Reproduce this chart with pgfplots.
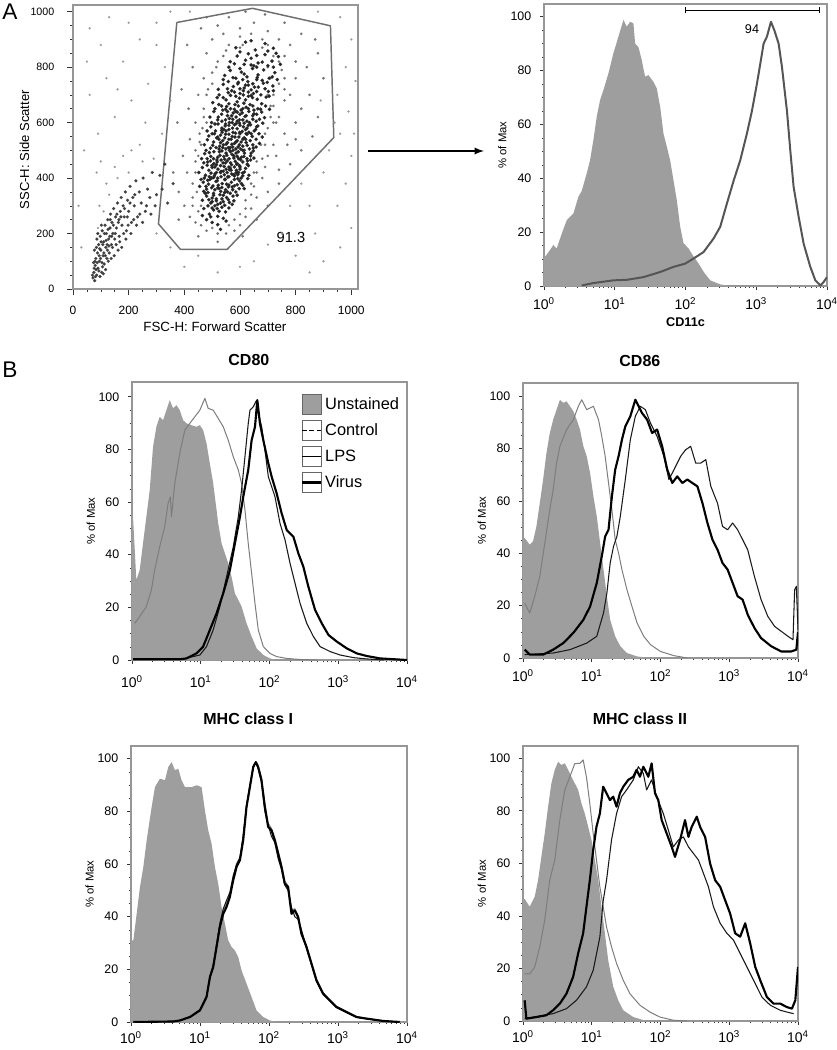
\documentclass[border=0pt]{standalone}
\usepackage{pgfplots}
\pgfplotsset{compat=1.18}
\usepackage{pgfplotstable}
\usepackage{fontspec}
\setmainfont{Liberation Sans}
\definecolor{unst}{RGB}{158,158,158}
\definecolor{ctrl}{RGB}{125,125,125}
\definecolor{framec}{RGB}{150,150,150}
\definecolor{cdline}{RGB}{85,85,85}
\definecolor{gatec}{RGB}{110,110,110}

\pgfplotstableread[row sep=\\]{
x y\\
490 270\\ 505 285\\ 520 262\\ 535 295\\ 548 278\\ 510 300\\ 470 290\\ 560 292\\ 525 280\\ 540 255\\
465 320\\ 480 335\\ 495 310\\ 505 345\\ 515 325\\ 528 340\\ 540 315\\ 552 330\\ 565 345\\ 578 318\\ 590 338\\ 500 328\\ 520 305\\ 545 348\\ 475 345\\
455 370\\ 468 385\\ 480 360\\ 492 395\\ 503 372\\ 514 388\\ 525 362\\ 536 380\\ 547 395\\ 558 368\\ 569 385\\ 580 372\\ 592 398\\ 605 380\\ 615 362\\ 487 378\\ 531 352\\ 552 378\\ 574 358\\ 598 390\\
452 420\\ 465 438\\ 476 410\\ 488 428\\ 499 445\\ 510 415\\ 521 432\\ 532 405\\ 543 442\\ 554 420\\ 565 436\\ 576 412\\ 587 428\\ 598 445\\ 609 418\\ 620 435\\ 632 410\\ 505 402\\ 540 425\\ 570 448\\ 515 448\\ 560 405\\ 595 420\\ 482 446\\
462 470\\ 473 488\\ 484 458\\ 495 478\\ 506 495\\ 517 465\\ 528 482\\ 539 455\\ 550 490\\ 561 470\\ 572 485\\ 583 460\\ 594 495\\ 605 475\\ 616 490\\ 627 462\\ 638 480\\ 648 498\\ 520 475\\ 545 468\\ 566 495\\ 590 478\\ 610 458\\ 535 498\\ 578 472\\
472 520\\ 483 538\\ 494 508\\ 505 530\\ 516 545\\ 527 515\\ 538 535\\ 549 505\\ 560 540\\ 571 522\\ 582 548\\ 593 512\\ 604 530\\ 615 545\\ 626 518\\ 637 535\\ 648 508\\ 658 540\\ 540 520\\ 565 510\\ 590 535\\ 610 515\\ 555 528\\ 585 505\\ 520 548\\
482 570\\ 495 585\\ 508 560\\ 521 595\\ 534 572\\ 547 588\\ 560 558\\ 573 580\\ 586 596\\ 599 565\\ 612 585\\ 625 558\\ 638 592\\ 651 570\\ 664 588\\ 550 570\\ 575 565\\ 600 590\\ 620 575\\ 530 555\\ 580 592\\
492 620\\ 506 640\\ 520 610\\ 534 630\\ 548 648\\ 562 615\\ 576 635\\ 590 605\\ 604 645\\ 618 622\\ 632 640\\ 646 612\\ 660 630\\ 674 648\\ 688 618\\ 570 625\\ 600 630\\ 625 605\\ 650 645\\ 555 640\\
502 672\\ 518 690\\ 534 660\\ 550 682\\ 566 698\\ 582 665\\ 598 688\\ 614 670\\ 630 695\\ 646 660\\ 662 684\\ 678 668\\ 694 692\\ 590 675\\ 620 682\\ 560 668\\ 640 698\\
522 720\\ 540 738\\ 558 708\\ 576 730\\ 594 745\\ 612 715\\ 630 735\\ 648 705\\ 666 728\\ 684 742\\ 702 712\\ 718 732\\ 600 722\\ 640 718\\ 580 710\\
545 770\\ 565 788\\ 585 760\\ 605 782\\ 625 765\\ 645 795\\ 665 772\\ 685 790\\ 705 760\\ 725 780\\ 615 775\\ 660 755\\
565 820\\ 590 840\\ 615 810\\ 640 832\\ 665 815\\ 690 845\\ 715 822\\ 738 838\\ 650 805\\
585 870\\ 620 890\\ 655 862\\ 690 885\\ 720 868\\ 640 895\\
530 420\\ 548 455\\ 562 430\\ 575 500\\ 588 450\\ 602 505\\ 518 390\\ 545 395\\ 570 415\\ 595 470\\ 610 540\\ 558 510\\ 532 465\\ 585 530\\ 622 560\\ 600 560\\ 545 545\\ 568 540\\ 590 420\\ 510 440\\
525 505\\ 553 482\\ 580 440\\ 615 500\\ 640 560\\ 630 590\\ 572 600\\ 548 610\\ 598 610\\ 610 650\\ 585 640\\ 560 590\\ 535 580\\ 505 470\\ 498 400\\ 520 365\\ 555 350\\ 580 395\\ 600 440\\ 625 470\\
485 300\\ 500 292\\ 515 318\\ 530 310\\ 545 302\\ 558 322\\ 572 305\\ 500 315\\ 488 322\\ 535 325\\ 562 312\\ 518 290\\
470 352\\ 485 348\\ 498 365\\ 510 358\\ 522 374\\ 535 366\\ 548 358\\ 560 375\\ 572 368\\ 585 350\\ 597 362\\ 610 374\\ 478 370\\ 505 338\\ 540 338\\ 575 335\\ 590 376\\
460 395\\ 472 400\\ 484 392\\ 496 418\\ 508 408\\ 520 400\\ 532 424\\ 544 412\\ 556 404\\ 568 428\\ 580 408\\ 592 412\\ 604 400\\ 616 422\\ 628 398\\ 490 405\\ 515 420\\ 550 432\\ 585 418\\ 610 408\\
470 455\\ 482 470\\ 494 462\\ 506 452\\ 518 458\\ 530 445\\ 542 478\\ 554 462\\ 566 455\\ 578 480\\ 590 452\\ 602 466\\ 614 478\\ 626 450\\ 638 465\\ 650 472\\ 500 438\\ 560 440\\ 600 432\\ 630 445\\
478 500\\ 490 492\\ 502 518\\ 514 510\\ 526 495\\ 538 510\\ 550 522\\ 562 500\\ 574 512\\ 586 490\\ 598 520\\ 610 500\\ 622 528\\ 634 505\\ 646 520\\ 658 512\\ 670 525\\ 530 528\\ 580 525\\ 640 490\\
488 552\\ 500 560\\ 512 570\\ 524 540\\ 536 565\\ 548 558\\ 560 575\\ 572 550\\ 584 562\\ 596 548\\ 608 568\\ 620 540\\ 632 565\\ 644 550\\ 656 575\\ 668 560\\ 680 548\\ 542 575\\ 590 578\\ 625 580\\
498 600\\ 510 595\\ 522 620\\ 535 605\\ 548 595\\ 562 600\\ 574 612\\ 586 620\\ 598 598\\ 610 610\\ 622 625\\ 634 600\\ 646 625\\ 658 605\\ 670 612\\ 682 598\\ 555 625\\ 615 598\\ 660 585\\
510 650\\ 524 665\\ 538 645\\ 552 658\\ 566 650\\ 580 648\\ 594 660\\ 608 635\\ 622 655\\ 636 665\\ 650 632\\ 664 650\\ 678 638\\ 692 660\\ 706 648\\ 590 638\\ 630 650\\
525 700\\ 540 690\\ 555 722\\ 570 715\\ 585 695\\ 600 705\\ 615 725\\ 630 710\\ 645 690\\ 660 712\\ 675 700\\ 690 722\\ 705 695\\ 720 715\\ 612 700\\ 652 728\\
540 755\\ 558 748\\ 575 762\\ 592 740\\ 610 755\\ 628 748\\ 646 740\\ 662 762\\ 680 752\\ 698 745\\ 716 765\\ 734 755\\ 620 735\\
560 800\\ 580 812\\ 600 795\\ 620 825\\ 640 808\\ 660 800\\ 680 818\\ 700 805\\ 720 800\\ 745 810\\
600 855\\ 630 848\\ 660 842\\ 700 858\\ 730 850\\
480 250\\ 500 240\\ 520 232\\ 465 265\\ 550 245\\ 530 215\\ 495 260\\
}\coretab

\pgfplotstableread[row sep=\\]{
x y\\
400 300\\ 420 260\\ 440 240\\ 380 350\\ 410 420\\ 430 380\\ 395 480\\ 420 540\\ 440 600\\ 415 650\\ 450 700\\ 470 760\\ 430 800\\ 480 850\\ 500 900\\ 520 950\\ 560 980\\ 600 940\\ 650 960\\ 700 930\\
740 900\\ 780 880\\ 800 820\\ 760 760\\ 780 700\\ 820 650\\ 800 600\\ 760 560\\ 720 520\\ 700 480\\ 740 430\\ 680 400\\ 700 350\\ 660 330\\ 640 290\\ 620 260\\ 600 230\\ 580 210\\ 550 200\\ 500 220\\
460 230\\ 450 280\\ 430 330\\ 455 560\\ 470 620\\ 480 700\\ 740 620\\ 720 600\\ 760 680\\ 710 660\\ 690 560\\ 675 520\\ 660 460\\ 690 440\\ 650 420\\ 640 380\\ 620 320\\ 710 760\\ 740 820\\ 700 800\\
760 840\\ 680 900\\ 600 870\\ 550 860\\ 520 820\\ 500 780\\ 480 600\\ 460 520\\ 440 460\\ 470 400\\ 800 760\\ 850 700\\ 880 620\\ 860 550\\ 820 500\\ 780 450\\ 740 380\\ 700 300\\ 660 250\\ 610 190\\
520 170\\ 450 190\\ 380 250\\ 360 420\\ 375 600\\ 390 720\\ 410 880\\ 460 940\\ 690 990\\ 820 920\\ 880 850\\ 900 760\\ 840 800\\ 870 900\\ 760 960\\ 620 1000\\ 540 920\\ 480 980\\ 720 700\\ 730 480\\
770 520\\ 800 540\\
430 300\\ 445 350\\ 440 420\\ 450 480\\ 455 530\\ 465 580\\ 470 650\\ 485 720\\ 500 740\\ 515 800\\ 540 840\\ 560 880\\ 600 910\\ 640 920\\ 680 870\\ 720 840\\ 750 790\\ 740 740\\ 720 660\\ 710 620\\
700 580\\ 690 520\\ 680 470\\ 660 420\\ 650 370\\ 640 340\\ 620 290\\ 600 270\\ 580 250\\ 560 230\\ 520 200\\ 480 210\\ 460 300\\ 440 500\\ 700 700\\ 730 600\\ 700 880\\ 760 720\\ 670 560\\ 610 880\\
}\halotab

\pgfplotstableread[row sep=\\]{
x y\\
72 40\\ 75 60\\ 78 30\\ 80 85\\ 82 110\\ 85 50\\ 88 130\\ 90 75\\ 92 160\\ 95 100\\ 98 190\\ 100 140\\ 103 60\\ 105 210\\ 108 120\\ 110 170\\ 112 90\\ 115 230\\ 118 150\\ 120 200\\
122 110\\ 125 250\\ 128 180\\ 130 130\\ 133 220\\ 135 270\\ 138 160\\ 140 240\\ 143 200\\ 146 290\\ 150 180\\ 153 260\\ 156 220\\ 160 310\\ 163 240\\ 166 190\\ 170 280\\ 173 330\\ 176 230\\ 180 300\\
184 260\\ 188 350\\ 192 210\\ 196 320\\ 200 280\\ 205 370\\ 210 240\\ 215 330\\ 220 300\\ 226 390\\ 232 260\\ 238 350\\ 245 310\\ 252 400\\ 260 280\\ 268 360\\ 276 330\\ 285 420\\ 295 300\\ 70 50\\
74 95\\ 77 140\\ 83 70\\ 86 180\\ 94 120\\ 97 45\\ 101 170\\ 106 80\\ 111 130\\ 117 70\\ 123 160\\ 127 100\\ 132 190\\ 137 110\\ 142 150\\ 148 120\\ 155 160\\ 162 140\\ 168 170\\ 175 150\\
182 200\\ 190 180\\ 198 230\\ 208 200\\ 218 250\\ 228 230\\ 240 270\\ 250 240\\ 264 300\\ 280 270\\ 300 340\\ 320 360\\ 340 310\\ 360 380\\ 312 410\\ 330 450\\
76 75\\ 79 100\\ 81 45\\ 84 150\\ 87 95\\ 89 200\\ 93 65\\ 96 145\\ 99 110\\ 102 230\\ 104 95\\ 107 160\\ 109 55\\ 113 200\\ 116 120\\ 119 175\\ 124 140\\ 126 215\\ 129 155\\ 134 250\\
139 190\\ 145 230\\ 152 200\\ 158 270\\ 165 250\\ 172 260\\ 185 290\\ 195 260\\ 205 310\\ 222 340\\
}\debristab

\pgfplotstableread[row sep=\\]{
x y\\
60 700\\ 120 760\\ 180 820\\ 240 900\\ 300 960\\ 90 560\\ 150 620\\ 210 680\\ 270 740\\ 330 800\\ 100 880\\ 200 960\\ 260 600\\ 320 560\\ 350 680\\ 300 880\\ 160 720\\ 60 940\\ 240 520\\ 350 1000\\
880 1000\\ 960 980\\ 1000 900\\ 980 800\\ 950 700\\ 990 640\\ 960 560\\ 1000 480\\ 980 380\\ 950 300\\ 1000 220\\ 960 150\\ 900 100\\ 850 60\\ 800 120\\ 750 200\\ 700 160\\ 650 100\\ 600 80\\ 520 60\\
450 120\\ 400 80\\ 350 150\\ 300 200\\ 850 300\\ 900 420\\ 870 200\\ 920 500\\ 780 300\\ 820 380\\ 940 600\\ 890 680\\ 1010 560\\ 1015 750\\ 40 500\\ 20 300\\ 30 150\\ 50 820\\ 130 980\\ 420 1000\\
290 470\\ 250 460\\ 200 420\\ 160 400\\ 130 340\\ 110 280\\ 90 220\\ 95 300\\ 120 380\\ 150 440\\ 180 480\\ 210 500\\ 85 420\\ 100 460\\
}\sparsetab

\pgfplotsset{
  flow/.style={
    scale only axis,
    axis line style={draw=framec, line width=0.8pt},
    tick align=outside,
    tick pos=left,
    major tick style={black!80, line width=0.6pt},
    minor tick style={black!80, line width=0.45pt},
    major tick length=3pt,
    minor tick length=1.6pt,
    yticklabel style={font=\fontsize{9.3}{10}\selectfont, xshift=-3pt},
    xticklabel style={font=\fontsize{10.5}{11}\selectfont},
    /pgf/number format/assume math mode=true,
    /pgf/number format/1000 sep={},
    clip=true,
  },
  hist/.style={
    flow,
    xmin=0, xmax=4, ymin=0, ymax=105,
    xtick={0,1,2,3,4},
    xticklabels={10\textsuperscript{0},10\textsuperscript{1},10\textsuperscript{2},10\textsuperscript{3},10\textsuperscript{4}},
    minor xtick={0.301,0.477,0.602,0.699,0.778,0.845,0.903,0.954,1.301,1.477,1.602,1.699,1.778,1.845,1.903,1.954,2.301,2.477,2.602,2.699,2.778,2.845,2.903,2.954,3.301,3.477,3.602,3.699,3.778,3.845,3.903,3.954},
    ytick={0,20,40,60,80,100},
    minor y tick num=3,
    ylabel={\% of Max},
    ylabel style={font=\fontsize{8.5}{9}\selectfont, at={(axis description cs:-0.15,0.5)}, anchor=center},
    title style={font=\bfseries\fontsize{12}{13}\selectfont, at={(axis description cs:0.425,1.052)}, anchor=center},
  },
  unstained/.style={fill=unst, draw=none},
  control/.style={ctrl, line width=0.75pt, line join=round},
  lps/.style={black!90, line width=0.8pt, line join=round},
  virus/.style={black, line width=1.6pt, line join=round},
  dots/.style={only marks, mark=*, mark size=#1},
}

\begin{document}
\begin{tikzpicture}
\path[use as bounding box] (0pt,0pt) rectangle (627.75pt,-787.5pt);

% ---------------- Panel A, scatter ----------------
\begin{axis}[flow, at={(54.75pt,-216.75pt)}, anchor=south west,
  width=213.75pt, height=213pt,
  xmin=0, xmax=1024, ymin=0, ymax=1024,
  xtick={0,200,...,1000}, ytick={0,200,...,1000}, minor tick num=3,
  major tick length=4.5pt, minor tick length=2.2pt,
  xlabel={FSC-H: Forward Scatter}, ylabel={SSC-H: Side Scatter},
  xlabel style={font=\fontsize{10}{11}\selectfont, at={(axis description cs:0.498,-0.134)}, anchor=center},
  ylabel style={font=\fontsize{9.8}{11}\selectfont, at={(axis description cs:-0.17,0.49)}, anchor=center},
  xticklabel style={font=\fontsize{9}{10}\selectfont, yshift=-5pt},
  yticklabel style={font=\fontsize{8}{9}\selectfont, xshift=-3pt}]
\addplot[dots=0.8pt, mark options={draw=black!40, fill=black!40, line width=0.1pt}] table {\sparsetab};
\addplot[dots=0.95pt, mark options={draw=black!55, fill=black!55, line width=0.1pt}] table {\halotab};
\addplot[dots=1.15pt, mark options={draw=black!75, fill=black!75, line width=0.1pt}] table {\debristab};
\addplot[dots=1.3pt, mark options={draw=black!85, fill=black!85, line width=0.1pt}] table {\coretab};
\addplot[gatec, line width=1.1pt, line join=round] coordinates {(373,961) (645,1012) (925,949) (937,546) (554,143) (386,143) (307,235) (373,961)};
\node[font=\fontsize{11}{12}\selectfont] at (axis cs:783,186) {91.3};
\end{axis}

\draw[-latex, line width=1.4pt] (276pt,-113.25pt) -- (363pt,-113.25pt);
\node[font=\fontsize{17}{18}\selectfont] at (7.5pt,-9pt) {A};
\node[font=\fontsize{17}{18}\selectfont] at (7.5pt,-277.5pt) {B};

% ---------------- Panel A, CD11c ----------------
\begin{axis}[hist, at={(408pt,-214.5pt)}, anchor=south west,
  width=212.25pt, height=211.5pt, ymax=104.7,
  xticklabel style={yshift=-2pt},
  xlabel={\bfseries CD11c},
  xlabel style={font=\fontsize{9.5}{10}\selectfont, at={(axis description cs:0.5,-0.128)}, anchor=center},
  ylabel style={at={(axis description cs:-0.147,0.5)}}]
\addplot[unstained] coordinates {(0,10.3) (0.085,13.4) (0.132,15.2) (0.179,13.9) (0.25,19.4) (0.321,24.4) (0.415,26.9) (0.486,33.1) (0.533,35.3) (0.604,41.8) (0.651,46.7) (0.698,54.2) (0.745,62.8) (0.792,69.0) (0.840,72.7) (0.910,78.9) (0.981,86.4) (1.052,92.6) (1.123,98.8) (1.170,96.3) (1.217,98.1) (1.264,97.5) (1.288,90) (1.335,88.7) (1.382,83.8) (1.429,77.7) (1.476,78.3) (1.547,75.8) (1.594,73.4) (1.642,66.5) (1.689,56.6) (1.736,51.7) (1.783,46.7) (1.830,39.3) (1.877,31.9) (1.925,22) (1.972,15.9) (2.042,14) (2.113,11) (2.184,8.4) (2.255,5.3) (2.349,2.1) (2.491,0.6) (2.632,0)} \closedcycle;
\addplot[cdline, line width=1.5pt, line join=round] coordinates {(0.533,0.2) (0.698,1.1) (0.981,2.1) (1.170,2.3) (1.406,3.3) (1.642,5.2) (1.830,7.1) (1.995,8.3) (2.113,10.2) (2.255,12.6) (2.396,17.6) (2.491,22) (2.585,30.6) (2.679,39) (2.774,46.7) (2.868,56.6) (2.939,65) (3.009,75) (3.057,82.5) (3.104,90) (3.151,92.6) (3.208,98.1) (3.255,95) (3.316,90) (3.363,81.4) (3.434,65) (3.481,50.4) (3.528,36.8) (3.599,25.7) (3.670,15.7) (3.764,7.1) (3.835,2.1) (3.906,0.2) (3.953,1.5) (4.0,3.3)};
\addplot[black, line width=0.9pt] coordinates {(2,102.4) (3.89,102.4)};
\addplot[black, line width=0.9pt] coordinates {(2,101.2) (2,103.6)};
\addplot[black, line width=0.9pt] coordinates {(3.89,101.2) (3.89,103.6)};
\node[font=\fontsize{9.5}{10}\selectfont] at (axis cs:2.94,95.4) {94};
\end{axis}

% ---------------- CD80 ----------------
\begin{axis}[hist, at={(99pt,-495pt)}, anchor=south west,
  width=206.25pt, height=208.5pt, ymax=105.6, title={CD80},
  xticklabel style={yshift=-5pt},
  legend style={at={(axis description cs:0.612,0.958)}, anchor=north west, draw=none, fill=none,
    font=\fontsize{12.3}{13}\selectfont, row sep=4pt, inner sep=0pt, nodes={inner sep=2pt}},
  legend cell align=left]
\addplot[unstained, forget plot] coordinates {(0,54.4) (0.015,54.4) (0.063,30.4) (0.112,34.2) (0.160,44.3) (0.209,54.4) (0.258,64.6) (0.306,81) (0.355,88.6) (0.403,92.4) (0.452,91.1) (0.501,94.9) (0.549,98.7) (0.598,95.6) (0.646,96.8) (0.695,94.9) (0.744,91.1) (0.792,89.9) (0.865,89.2) (0.938,88.6) (0.987,89.2) (1.035,87.3) (1.084,82.3) (1.132,74.7) (1.181,67.1) (1.230,57) (1.254,51.9) (1.303,44.3) (1.351,40.5) (1.400,36.7) (1.448,31.6) (1.497,25.3) (1.546,22.8) (1.594,20.3) (1.667,13.9) (1.740,8.9) (1.813,4.4) (1.910,1.9) (2.007,0.6) (2.104,0)} \closedcycle;
\addplot[control, forget plot] coordinates {(0.039,13.9) (0.112,16.5) (0.209,20.3) (0.282,26.6) (0.330,34.2) (0.403,43) (0.476,50.6) (0.525,59.5) (0.559,62) (0.574,54.4) (0.622,67.1) (0.695,78.5) (0.768,87.3) (0.841,89.9) (0.914,92.4) (0.987,94.9) (1.060,99.4) (1.108,95.6) (1.181,94.9) (1.254,91.8) (1.327,88.6) (1.400,83.5) (1.473,77.2) (1.546,72.2) (1.594,67.1) (1.643,57) (1.691,44.3) (1.740,32.9) (1.789,21.5) (1.837,11.4) (1.910,5.1) (2.007,2.5) (2.104,1.3) (2.250,0.6) (2.445,0.2) (2.688,0)};
\addplot[lps, forget plot] coordinates {(0.015,0.2) (0.744,0.3) (0.841,1) (0.987,1.9) (1.084,5.1) (1.181,11.4) (1.278,20.3) (1.375,31.6) (1.473,43) (1.546,54.4) (1.594,64.6) (1.643,77.2) (1.691,89.9) (1.716,94.9) (1.764,96.2) (1.813,98.7) (1.837,93.7) (1.886,88.6) (1.934,79.7) (1.983,69.6) (2.032,65.8) (2.080,62) (2.153,51.9) (2.226,45.6) (2.299,36.7) (2.372,29.1) (2.445,21.5) (2.542,13.9) (2.639,8.9) (2.736,5.1) (2.882,3.2) (3.028,1.9) (3.222,0.9) (3.417,0.4) (3.660,0)};
\addplot[virus, forget plot] coordinates {(0.015,0.3) (0.695,0.3) (0.792,0.6) (0.938,2.5) (1.035,5.1) (1.132,11.4) (1.230,17.7) (1.327,25.3) (1.424,34.2) (1.497,44.3) (1.570,54.4) (1.618,62) (1.691,72.2) (1.740,83.5) (1.789,88.6) (1.823,98.7) (1.861,89.9) (1.910,83.5) (1.983,74.7) (2.032,69.6) (2.104,63.3) (2.177,55.7) (2.250,49.4) (2.299,48.1) (2.348,46.8) (2.420,40.5) (2.493,35.4) (2.566,27.8) (2.663,19) (2.761,13.9) (2.858,9.5) (2.979,7) (3.125,4.4) (3.271,2.5) (3.417,1.5) (3.611,0.6) (3.806,0.3) (4.0,0)};
\addlegendimage{legend image code/.code={\filldraw[draw=gray!80!black, fill=unst, line width=0.6pt] (0pt,-7.5pt) rectangle (14.25pt,7.5pt);}}
\addlegendentry{Unstained}
\addlegendimage{legend image code/.code={\draw[draw=gray!80!black, fill=white, line width=0.6pt] (0pt,-7.5pt) rectangle (14.25pt,7.5pt); \draw[black, line width=1pt, dash pattern=on 3.5pt off 2pt] (0pt,0pt) -- (14.25pt,0pt);}}
\addlegendentry{Control}
\addlegendimage{legend image code/.code={\draw[draw=gray!80!black, fill=white, line width=0.6pt] (0pt,-7.5pt) rectangle (14.25pt,7.5pt); \draw[black, line width=1pt] (0pt,0pt) -- (14.25pt,0pt);}}
\addlegendentry{LPS}
\addlegendimage{legend image code/.code={\draw[draw=gray!80!black, fill=white, line width=0.6pt] (0pt,-7.5pt) rectangle (14.25pt,7.5pt); \draw[black, line width=2.2pt] (0pt,0pt) -- (14.25pt,0pt);}}
\addlegendentry{Virus}
\end{axis}

% ---------------- CD86 ----------------
\begin{axis}[hist, at={(392.25pt,-493.5pt)}, anchor=south west,
  width=206.25pt, height=206.25pt, ymax=105.1, title={CD86},
  xticklabel style={yshift=-2pt}]
\addplot[unstained] coordinates {(0,45.9) (0.024,45.9) (0.098,43.3) (0.146,44.6) (0.195,50.3) (0.244,59.2) (0.293,68.2) (0.341,78.3) (0.390,86) (0.439,91.1) (0.488,94.9) (0.537,98.7) (0.585,97.5) (0.634,98.1) (0.683,96.2) (0.732,94.3) (0.780,91.1) (0.829,87.3) (0.878,80.9) (0.927,77.1) (0.976,70.7) (1.024,61.8) (1.073,54.1) (1.122,43.9) (1.171,33.8) (1.220,23.6) (1.268,14.6) (1.341,8.3) (1.415,4.5) (1.512,1.9) (1.659,0.6) (1.854,0)} \closedcycle;
\addplot[control] coordinates {(0.024,21.0) (0.098,17.2) (0.171,23.6) (0.244,31.2) (0.317,43.9) (0.390,56.7) (0.439,64.3) (0.488,74.5) (0.537,80.9) (0.634,87.3) (0.732,91.1) (0.805,96.2) (0.854,98.7) (0.927,94.9) (1.024,96.2) (1.098,91.1) (1.146,84.7) (1.195,77.1) (1.244,66.9) (1.293,56.7) (1.341,45.2) (1.390,40.1) (1.439,33.8) (1.512,26.1) (1.585,19.7) (1.659,13.4) (1.756,8.3) (1.854,5.1) (2.0,2.5) (2.195,0.9) (2.390,0)};
\addplot[lps] coordinates {(0.024,1.3) (0.439,1.9) (0.683,3.2) (0.927,5.7) (1.073,8.3) (1.171,17.2) (1.220,24.8) (1.268,36.3) (1.317,42.7) (1.366,46.5) (1.415,54.1) (1.488,68.2) (1.561,83.4) (1.634,92.4) (1.707,96.2) (1.780,94.9) (1.854,89.8) (1.951,84.7) (2.049,77.1) (2.122,68.2) (2.195,71.9) (2.293,77.1) (2.366,79.6) (2.439,80.9) (2.512,74.5) (2.585,74.5) (2.659,75.8) (2.732,65.6) (2.829,59.2) (2.902,50.3) (2.976,49) (3.049,51.6) (3.122,49) (3.195,45.2) (3.268,41.4) (3.366,31.2) (3.463,22.3) (3.561,15.9) (3.659,12.1) (3.756,10.2) (3.854,8.3) (3.927,7) (3.951,26.1) (3.976,27.4) (4.0,10.8)};
\addplot[virus] coordinates {(0.024,3.2) (0.098,1.3) (0.293,1.3) (0.439,3.2) (0.585,5.7) (0.732,9.6) (0.878,14.6) (0.976,19.7) (1.073,28.7) (1.146,38.9) (1.195,46.5) (1.244,49) (1.293,61.8) (1.341,72) (1.390,77.1) (1.439,83.4) (1.488,88.5) (1.561,92.4) (1.634,98.7) (1.683,96.2) (1.732,93.6) (1.805,91.1) (1.878,86) (1.951,87.3) (2.024,80.9) (2.098,72) (2.171,66.9) (2.244,69.4) (2.317,66.9) (2.390,68.2) (2.463,66.9) (2.537,65.6) (2.610,59.2) (2.683,51.6) (2.756,45.2) (2.829,41.4) (2.902,36.3) (2.976,33.8) (3.049,28.7) (3.122,23.6) (3.195,22.3) (3.268,16.6) (3.366,11.5) (3.463,7.6) (3.610,4.5) (3.756,2.5) (3.902,2.5) (3.976,3.2) (4.0,10)};
\end{axis}

% ---------------- MHC class I ----------------
\begin{axis}[hist, at={(98.25pt,-766.5pt)}, anchor=south west,
  width=207pt, height=207pt, ymax=104.8, title={MHC class I},
  xticklabel style={yshift=-0.5pt},
  title style={at={(axis description cs:0.425,1.069)}}]
\addplot[unstained] coordinates {(0,31) (0.034,31) (0.082,41.1) (0.130,51.3) (0.179,58.9) (0.227,69) (0.299,81.6) (0.347,89.2) (0.420,92.4) (0.492,91.8) (0.540,96.8) (0.589,98.7) (0.637,95.6) (0.685,96.2) (0.733,91.8) (0.782,89.2) (0.878,89.2) (0.951,89.9) (1.023,89.2) (1.071,80.4) (1.119,72.8) (1.168,67.7) (1.216,58.9) (1.264,52.5) (1.312,43.7) (1.361,37.3) (1.409,31) (1.457,28.5) (1.505,27.2) (1.554,24.7) (1.602,19.6) (1.674,14.6) (1.747,9.5) (1.819,4.4) (1.916,1.9) (2.012,0.6) (2.109,0)} \closedcycle;
\addplot[control] coordinates {(0.034,0) (0.613,0.2) (0.709,0.7) (0.854,2.1) (0.999,4.8) (1.095,10.2) (1.144,17.8) (1.192,22.0) (1.240,29.5) (1.288,37.0) (1.337,42.5) (1.385,45.0) (1.433,48.6) (1.481,55.0) (1.530,60.2) (1.578,62.5) (1.626,70.2) (1.674,82.5) (1.723,90.0) (1.771,97.2) (1.809,98.7) (1.843,97.5) (1.891,92.8) (1.940,83.0) (1.988,75.5) (2.036,73.5) (2.084,70.0) (2.133,65.0) (2.181,59.8) (2.229,53.5) (2.277,51.8) (2.326,42.5) (2.374,43.0) (2.422,40.5) (2.470,34.5) (2.543,29.2) (2.615,22.8) (2.688,16.5) (2.784,11.2) (2.881,8.5) (2.977,6.0) (3.122,4.0) (3.267,2.1) (3.411,1.4) (3.653,0.5) (3.894,0)};
\addplot[lps] coordinates {(0.034,0) (0.613,0.2) (0.709,0.6) (0.854,1.9) (0.999,4.6) (1.095,9.8) (1.144,16.5) (1.192,21.8) (1.240,29.6) (1.288,37.5) (1.337,43.0) (1.385,46.2) (1.433,49.2) (1.481,55.5) (1.530,59.8) (1.578,62.2) (1.626,70.8) (1.674,82.0) (1.723,89.6) (1.771,96.5) (1.809,98.7) (1.843,96.2) (1.891,91.2) (1.940,80.0) (1.988,74.8) (2.036,70.5) (2.084,68.2) (2.133,62.0) (2.181,58.0) (2.229,52.0) (2.277,50.0) (2.326,43.5) (2.374,40.0) (2.422,39.0) (2.470,35.0) (2.543,28.0) (2.615,21.8) (2.688,15.5) (2.784,10.5) (2.881,8.0) (2.977,5.5) (3.122,3.6) (3.267,1.8) (3.411,1.2) (3.653,0.4) (3.894,0)};
\addplot[virus] coordinates {(0.034,0) (0.613,0.2) (0.709,0.6) (0.854,1.9) (0.999,4.4) (1.095,9.5) (1.144,17.1) (1.192,20.9) (1.240,28.5) (1.288,36.1) (1.337,41.1) (1.385,43.7) (1.433,47.5) (1.481,53.8) (1.530,58.9) (1.578,61.4) (1.626,69) (1.674,81.6) (1.723,89.2) (1.771,96.8) (1.809,98.7) (1.843,96.8) (1.891,91.8) (1.940,81.6) (1.988,74.1) (2.036,72.8) (2.084,69) (2.133,63.9) (2.181,58.9) (2.229,52.5) (2.277,51.3) (2.326,41.1) (2.374,42.4) (2.422,39.9) (2.470,33.5) (2.543,28.5) (2.615,22.2) (2.688,15.8) (2.784,10.8) (2.881,8.2) (2.977,5.7) (3.122,3.8) (3.267,1.9) (3.411,1.3) (3.653,0.4) (3.894,0)};
\end{axis}

% ---------------- MHC class II ----------------
\begin{axis}[hist, at={(392.25pt,-765.75pt)}, anchor=south west,
  width=206.25pt, height=206.25pt, ymax=104.7, title={MHC class II},
  xticklabel style={yshift=-0.5pt},
  title style={at={(axis description cs:0.425,1.069)}}]
\addplot[unstained] coordinates {(0,46.5) (0.024,46.5) (0.097,43.5) (0.170,47.3) (0.219,53.6) (0.267,62.5) (0.316,71.4) (0.365,81.6) (0.413,90.5) (0.462,95.6) (0.510,98.7) (0.559,97.5) (0.608,98.1) (0.656,95.6) (0.705,93.0) (0.753,90.5) (0.802,88) (0.851,82.8) (0.899,79.0) (0.948,73.9) (0.996,68.9) (1.045,61.3) (1.094,53.6) (1.142,43.5) (1.191,33.4) (1.239,23.2) (1.312,13.1) (1.385,7.9) (1.458,4.1) (1.604,1.5) (1.798,0)} \closedcycle;
\addplot[control] coordinates {(0.024,17.9) (0.097,17.9) (0.170,20.5) (0.243,28.2) (0.316,38.4) (0.389,53.6) (0.462,61.3) (0.535,76.5) (0.608,87.9) (0.680,92.9) (0.753,98) (0.826,98.1) (0.875,99.4) (0.923,92.9) (0.972,82.8) (1.021,71.4) (1.069,61.3) (1.118,51.1) (1.166,43.5) (1.215,35.8) (1.288,28.2) (1.361,21.9) (1.458,15.5) (1.555,10.4) (1.701,6) (1.847,3.4) (1.993,1.5) (2.187,0.3) (2.382,0)};
\addplot[lps] coordinates {(0.024,0.9) (0.437,2.8) (0.632,4.7) (0.778,7.9) (0.923,13) (1.021,19.3) (1.118,32) (1.166,45.7) (1.215,53.6) (1.288,69) (1.361,79) (1.434,85.4) (1.507,88) (1.604,91.8) (1.677,96.8) (1.750,94.3) (1.798,88) (1.871,91.8) (1.944,85.4) (2.041,79) (2.114,72.7) (2.187,66.3) (2.260,68.9) (2.333,70.1) (2.406,66.3) (2.479,63.8) (2.552,61.3) (2.625,56.2) (2.697,51.1) (2.770,43.5) (2.868,37.2) (2.965,33.4) (3.062,30.8) (3.159,25.7) (3.256,20.6) (3.354,15.5) (3.475,9.1) (3.597,6) (3.742,4.1) (3.840,3.4) (3.937,2.8)};
\addplot[virus] coordinates {(0.024,7.9) (0.049,0.9) (0.194,1.5) (0.340,2.2) (0.437,4.1) (0.535,6.6) (0.632,10.4) (0.729,16.8) (0.802,25.7) (0.875,33.4) (0.923,43.5) (0.972,53.6) (1.021,65.1) (1.069,74) (1.118,79.0) (1.166,89.2) (1.215,86.7) (1.264,84.1) (1.312,85.4) (1.361,81.6) (1.409,86.7) (1.458,89.2) (1.531,91.8) (1.604,93) (1.652,95.6) (1.701,93) (1.750,96.8) (1.823,93) (1.871,98.1) (1.920,86.7) (1.968,84.1) (2.017,76.5) (2.090,71.4) (2.163,66.3) (2.211,62.5) (2.284,68.9) (2.357,76.5) (2.406,70.1) (2.454,73.9) (2.527,77.8) (2.576,73.9) (2.649,70.1) (2.722,59.9) (2.795,53.6) (2.868,51.1) (2.940,46) (3.013,40.9) (3.086,33.4) (3.159,32.1) (3.232,37.2) (3.305,29.5) (3.378,20.6) (3.451,15.5) (3.548,9.1) (3.645,6.6) (3.742,6.6) (3.840,5.3) (3.912,4.7) (3.961,7.9) (4.0,20.6)};
\end{axis}
\end{tikzpicture}
\end{document}
